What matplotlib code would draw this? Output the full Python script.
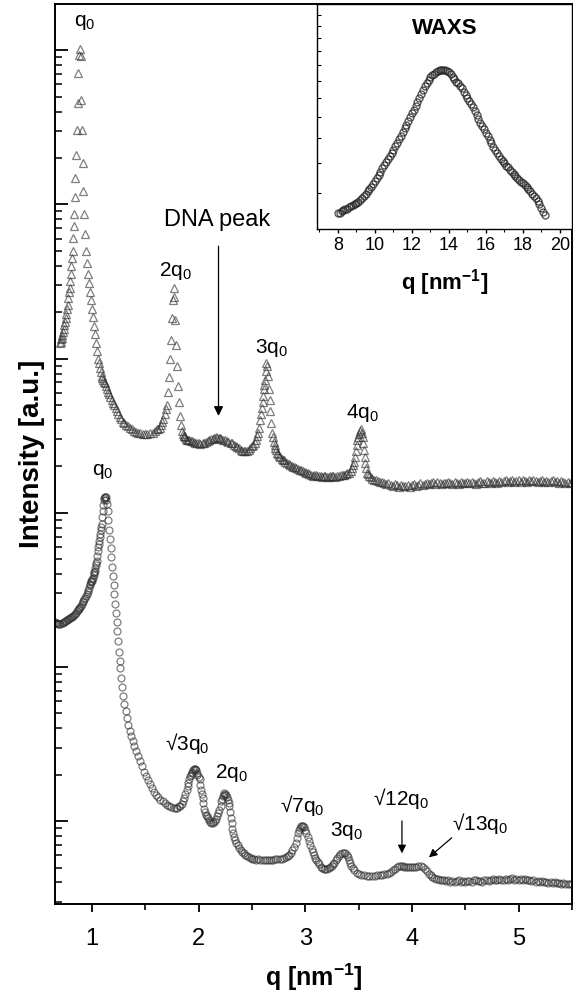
import matplotlib.pyplot as plt
import numpy as np
from matplotlib.ticker import LogLocator, MultipleLocator, NullFormatter

plt.rcParams['font.family'] = ['Liberation Sans', 'DejaVu Sans']
plt.rcParams['mathtext.fontset'] = 'custom'
plt.rcParams['mathtext.rm'] = 'Liberation Sans'
plt.rcParams['mathtext.it'] = 'Liberation Sans:italic'
plt.rcParams['mathtext.bf'] = 'Liberation Sans:bold'

# SAXS, upper curve (triangles): q [nm^-1] and log10 of intensity [a.u.]
q_top = [0.700, 0.706, 0.712, 0.718, 0.724, 0.730, 0.736, 0.742, 0.748, 0.754,
         0.760, 0.766, 0.772, 0.778, 0.784, 0.790, 0.796, 0.802, 0.808, 0.814,
         0.820, 0.825, 0.830, 0.835, 0.840, 0.845, 0.850, 0.858, 0.865, 0.872,
         0.880, 0.888, 0.895, 0.900, 0.908, 0.915, 0.920, 0.928, 0.935, 0.944,
         0.953, 0.962, 0.972, 0.981, 0.991, 1.000, 1.009, 1.020, 1.030, 1.040,
         1.050, 1.060, 1.068, 1.075, 1.083, 1.090, 1.098, 1.105, 1.113, 1.121,
         1.130, 1.140, 1.150, 1.160, 1.172, 1.187, 1.198, 1.210, 1.222, 1.235,
         1.248, 1.262, 1.276, 1.290, 1.305, 1.320, 1.337, 1.355, 1.372, 1.390,
         1.410, 1.430, 1.453, 1.477, 1.498, 1.520, 1.545, 1.570, 1.590, 1.610,
         1.623, 1.636, 1.648, 1.660, 1.671, 1.682, 1.691, 1.700, 1.711, 1.720,
         1.729, 1.738, 1.747, 1.756, 1.765, 1.774, 1.783, 1.792, 1.801, 1.810,
         1.819, 1.828, 1.837, 1.846, 1.853, 1.860, 1.868, 1.875, 1.883, 1.890,
         1.900, 1.910, 1.925, 1.940, 1.955, 1.970, 1.985, 2.000, 2.018, 2.037,
         2.053, 2.070, 2.085, 2.100, 2.115, 2.131, 2.145, 2.160, 2.175, 2.190,
         2.203, 2.215, 2.232, 2.250, 2.265, 2.280, 2.300, 2.318, 2.334, 2.350,
         2.365, 2.380, 2.395, 2.411, 2.425, 2.440, 2.455, 2.470, 2.485, 2.500,
         2.515, 2.530, 2.540, 2.550, 2.560, 2.570, 2.578, 2.585, 2.593, 2.600,
         2.606, 2.612, 2.617, 2.622, 2.630, 2.636, 2.643, 2.652, 2.660, 2.666,
         2.672, 2.680, 2.690, 2.697, 2.705, 2.712, 2.720, 2.730, 2.740, 2.748,
         2.757, 2.768, 2.780, 2.790, 2.800, 2.815, 2.830, 2.845, 2.860, 2.875,
         2.890, 2.903, 2.916, 2.933, 2.950, 2.965, 2.980, 2.995, 3.010, 3.025,
         3.040, 3.055, 3.070, 3.085, 3.100, 3.115, 3.130, 3.145, 3.160, 3.175,
         3.190, 3.205, 3.220, 3.235, 3.250, 3.265, 3.280, 3.300, 3.318, 3.334,
         3.350, 3.365, 3.380, 3.395, 3.410, 3.425, 3.440, 3.450, 3.458, 3.467,
         3.475, 3.483, 3.490, 3.498, 3.505, 3.514, 3.523, 3.530, 3.538, 3.545,
         3.551, 3.558, 3.565, 3.572, 3.580, 3.590, 3.600, 3.615, 3.630, 3.647,
         3.664, 3.682, 3.700, 3.720, 3.740, 3.760, 3.780, 3.800, 3.820, 3.840,
         3.860, 3.880, 3.900, 3.920, 3.940, 3.960, 3.980, 4.000, 4.020, 4.040,
         4.060, 4.080, 4.100, 4.120, 4.140, 4.160, 4.180, 4.200, 4.220, 4.240,
         4.260, 4.280, 4.300, 4.320, 4.340, 4.360, 4.380, 4.400, 4.420, 4.440,
         4.460, 4.480, 4.500, 4.520, 4.540, 4.560, 4.580, 4.600, 4.620, 4.640,
         4.660, 4.680, 4.700, 4.720, 4.740, 4.760, 4.780, 4.800, 4.820, 4.840,
         4.860, 4.880, 4.900, 4.920, 4.940, 4.960, 4.980, 5.000, 5.020, 5.040,
         5.060, 5.080, 5.100, 5.120, 5.140, 5.160, 5.180, 5.200, 5.220, 5.240,
         5.260, 5.280, 5.300, 5.320, 5.340, 5.360, 5.380, 5.400, 5.420, 5.440,
         5.460, 5.480, 5.500]
logI_top = [3.100, 3.110, 3.125, 3.135, 3.150, 3.170, 3.190, 3.215, 3.240, 3.265,
            3.290, 3.320, 3.350, 3.390, 3.430, 3.460, 3.500, 3.550, 3.600, 3.650,
            3.700, 3.780, 3.860, 3.940, 4.050, 4.170, 4.320, 4.480, 4.660, 4.850,
            4.970, 5.010, 4.960, 4.680, 4.480, 4.270, 4.090, 3.940, 3.810, 3.700,
            3.620, 3.550, 3.490, 3.430, 3.380, 3.320, 3.270, 3.210, 3.160, 3.100,
            3.050, 3.000, 2.970, 2.940, 2.915, 2.890, 2.875, 2.860, 2.850, 2.840,
            2.820, 2.800, 2.785, 2.770, 2.750, 2.730, 2.715, 2.700, 2.680, 2.660,
            2.640, 2.620, 2.605, 2.590, 2.580, 2.570, 2.560, 2.550, 2.540, 2.530,
            2.525, 2.520, 2.515, 2.510, 2.510, 2.510, 2.515, 2.520, 2.530, 2.540,
            2.545, 2.550, 2.570, 2.590, 2.610, 2.640, 2.670, 2.700, 2.780, 2.880,
            3.000, 3.120, 3.260, 3.380, 3.460, 3.400, 3.250, 3.090, 2.950, 2.820,
            2.720, 2.630, 2.570, 2.530, 2.510, 2.500, 2.495, 2.490, 2.480, 2.475,
            2.472, 2.470, 2.468, 2.465, 2.460, 2.455, 2.452, 2.450, 2.448, 2.450,
            2.455, 2.460, 2.468, 2.475, 2.478, 2.480, 2.487, 2.490, 2.488, 2.485,
            2.482, 2.480, 2.475, 2.470, 2.465, 2.460, 2.455, 2.450, 2.440, 2.430,
            2.425, 2.420, 2.410, 2.400, 2.398, 2.400, 2.403, 2.410, 2.420, 2.430,
            2.440, 2.450, 2.470, 2.500, 2.520, 2.550, 2.600, 2.640, 2.680, 2.720,
            2.760, 2.800, 2.830, 2.860, 2.920, 2.970, 2.950, 2.890, 2.800, 2.730,
            2.660, 2.580, 2.520, 2.490, 2.460, 2.440, 2.420, 2.405, 2.390, 2.380,
            2.370, 2.360, 2.350, 2.345, 2.340, 2.330, 2.320, 2.315, 2.310, 2.305,
            2.300, 2.295, 2.290, 2.285, 2.280, 2.275, 2.270, 2.265, 2.260, 2.255,
            2.250, 2.245, 2.240, 2.243, 2.245, 2.240, 2.240, 2.237, 2.235, 2.238,
            2.240, 2.233, 2.230, 2.236, 2.240, 2.237, 2.235, 2.238, 2.240, 2.243,
            2.245, 2.248, 2.250, 2.255, 2.260, 2.270, 2.290, 2.310, 2.330, 2.360,
            2.400, 2.440, 2.470, 2.490, 2.510, 2.530, 2.540, 2.520, 2.490, 2.450,
            2.410, 2.360, 2.320, 2.290, 2.260, 2.250, 2.240, 2.230, 2.220, 2.215,
            2.210, 2.205, 2.200, 2.200, 2.195, 2.185, 2.190, 2.180, 2.175, 2.185,
            2.178, 2.170, 2.180, 2.175, 2.172, 2.180, 2.170, 2.178, 2.185, 2.176,
            2.182, 2.190, 2.180, 2.185, 2.195, 2.184, 2.190, 2.198, 2.186, 2.200,
            2.190, 2.184, 2.196, 2.190, 2.200, 2.192, 2.186, 2.198, 2.194, 2.188,
            2.200, 2.196, 2.190, 2.198, 2.192, 2.202, 2.195, 2.188, 2.198, 2.205,
            2.195, 2.190, 2.204, 2.198, 2.192, 2.206, 2.200, 2.195, 2.208, 2.198,
            2.204, 2.212, 2.200, 2.206, 2.212, 2.198, 2.205, 2.210, 2.202, 2.212,
            2.205, 2.198, 2.210, 2.205, 2.214, 2.204, 2.198, 2.208, 2.212, 2.202,
            2.208, 2.200, 2.206, 2.212, 2.200, 2.205, 2.196, 2.204, 2.198, 2.192,
            2.200, 2.195, 2.198]

# SAXS, lower curve (circles)
q_bot = [0.655, 0.665, 0.675, 0.685, 0.695, 0.705, 0.715, 0.725, 0.735, 0.745,
         0.755, 0.766, 0.776, 0.785, 0.795, 0.805, 0.814, 0.822, 0.831, 0.840,
         0.850, 0.860, 0.868, 0.875, 0.882, 0.888, 0.897, 0.905, 0.913, 0.920,
         0.928, 0.935, 0.944, 0.953, 0.959, 0.965, 0.972, 0.980, 0.985, 0.990,
         0.995, 1.000, 1.005, 1.010, 1.015, 1.020, 1.024, 1.028, 1.033, 1.038,
         1.043, 1.047, 1.052, 1.056, 1.061, 1.066, 1.070, 1.075, 1.080, 1.084,
         1.089, 1.093, 1.098, 1.103, 1.108, 1.112, 1.117, 1.121, 1.126, 1.131,
         1.136, 1.140, 1.147, 1.154, 1.161, 1.168, 1.175, 1.182, 1.189, 1.196,
         1.203, 1.210, 1.217, 1.224, 1.231, 1.238, 1.245, 1.252, 1.259, 1.266,
         1.274, 1.283, 1.293, 1.304, 1.315, 1.327, 1.340, 1.354, 1.368, 1.383,
         1.398, 1.414, 1.431, 1.449, 1.467, 1.485, 1.503, 1.522, 1.542, 1.560,
         1.580, 1.600, 1.620, 1.642, 1.664, 1.685, 1.705, 1.725, 1.745, 1.765,
         1.785, 1.800, 1.815, 1.828, 1.841, 1.853, 1.865, 1.877, 1.888, 1.897,
         1.905, 1.913, 1.920, 1.928, 1.935, 1.943, 1.950, 1.957, 1.963, 1.969,
         1.975, 1.983, 1.990, 2.000, 2.009, 2.017, 2.025, 2.031, 2.037, 2.046,
         2.055, 2.062, 2.070, 2.077, 2.084, 2.095, 2.105, 2.118, 2.131, 2.140,
         2.150, 2.160, 2.170, 2.183, 2.196, 2.206, 2.215, 2.223, 2.230, 2.237,
         2.243, 2.250, 2.258, 2.266, 2.275, 2.283, 2.290, 2.298, 2.305, 2.312,
         2.318, 2.326, 2.335, 2.345, 2.355, 2.368, 2.383, 2.396, 2.410, 2.425,
         2.440, 2.455, 2.470, 2.488, 2.505, 2.522, 2.540, 2.560, 2.580, 2.600,
         2.620, 2.640, 2.660, 2.680, 2.700, 2.720, 2.740, 2.763, 2.785, 2.803,
         2.820, 2.835, 2.850, 2.865, 2.879, 2.895, 2.910, 2.923, 2.935, 2.945,
         2.955, 2.964, 2.972, 2.981, 2.990, 3.000, 3.010, 3.024, 3.037, 3.048,
         3.060, 3.070, 3.080, 3.092, 3.103, 3.116, 3.130, 3.145, 3.159, 3.175,
         3.190, 3.205, 3.220, 3.235, 3.250, 3.261, 3.271, 3.285, 3.300, 3.315,
         3.330, 3.347, 3.364, 3.377, 3.390, 3.400, 3.410, 3.420, 3.430, 3.445,
         3.460, 3.482, 3.505, 3.527, 3.550, 3.575, 3.600, 3.625, 3.650, 3.675,
         3.700, 3.720, 3.740, 3.763, 3.785, 3.803, 3.820, 3.840, 3.860, 3.878,
         3.897, 3.913, 3.930, 3.945, 3.960, 3.980, 4.000, 4.020, 4.040, 4.062,
         4.084, 4.102, 4.120, 4.140, 4.159, 4.175, 4.190, 4.207, 4.224, 4.242,
         4.260, 4.280, 4.300, 4.320, 4.340, 4.360, 4.380, 4.400, 4.420, 4.440,
         4.460, 4.480, 4.500, 4.520, 4.540, 4.560, 4.580, 4.600, 4.620, 4.640,
         4.660, 4.680, 4.700, 4.720, 4.740, 4.760, 4.780, 4.800, 4.820, 4.840,
         4.860, 4.880, 4.900, 4.920, 4.940, 4.960, 4.980, 5.000, 5.020, 5.040,
         5.060, 5.080, 5.100, 5.120, 5.140, 5.160, 5.180, 5.200, 5.220, 5.240,
         5.260, 5.280, 5.300, 5.320, 5.340, 5.360, 5.380, 5.400, 5.420, 5.440,
         5.460, 5.480, 5.500]
logI_bot = [1.290, 1.286, 1.283, 1.280, 1.280, 1.281, 1.284, 1.288, 1.292, 1.296,
            1.300, 1.304, 1.308, 1.312, 1.316, 1.321, 1.326, 1.331, 1.338, 1.345,
            1.352, 1.360, 1.368, 1.375, 1.380, 1.386, 1.398, 1.410, 1.420, 1.430,
            1.440, 1.450, 1.462, 1.475, 1.488, 1.500, 1.515, 1.530, 1.540, 1.550,
            1.555, 1.560, 1.570, 1.580, 1.595, 1.610, 1.618, 1.625, 1.642, 1.660,
            1.675, 1.690, 1.720, 1.750, 1.775, 1.800, 1.820, 1.840, 1.865, 1.890,
            1.910, 1.930, 1.970, 2.010, 2.050, 2.080, 2.095, 2.100, 2.104, 2.104,
            2.085, 2.060, 2.010, 1.950, 1.890, 1.830, 1.770, 1.710, 1.650, 1.590,
            1.530, 1.470, 1.410, 1.350, 1.290, 1.230, 1.170, 1.100, 1.040, 0.990,
            0.930, 0.870, 0.810, 0.760, 0.715, 0.670, 0.625, 0.585, 0.550, 0.520,
            0.490, 0.455, 0.420, 0.390, 0.355, 0.320, 0.290, 0.265, 0.240, 0.215,
            0.190, 0.170, 0.155, 0.140, 0.130, 0.118, 0.105, 0.097, 0.090, 0.085,
            0.085, 0.088, 0.095, 0.100, 0.110, 0.130, 0.150, 0.175, 0.200, 0.225,
            0.250, 0.270, 0.290, 0.300, 0.310, 0.320, 0.330, 0.337, 0.340, 0.337,
            0.330, 0.315, 0.300, 0.285, 0.270, 0.235, 0.200, 0.175, 0.150, 0.115,
            0.080, 0.060, 0.040, 0.030, 0.020, 0.005, -0.005, -0.011, -0.013, -0.008,
            0.000, 0.015, 0.030, 0.050, 0.070, 0.100, 0.130, 0.145, 0.160, 0.172,
            0.180, 0.177, 0.170, 0.155, 0.140, 0.120, 0.100, 0.060, 0.020, -0.015,
            -0.050, -0.075, -0.100, -0.120, -0.140, -0.158, -0.175, -0.188, -0.200, -0.210,
            -0.220, -0.228, -0.235, -0.240, -0.245, -0.248, -0.250, -0.248, -0.250, -0.254,
            -0.255, -0.252, -0.250, -0.253, -0.250, -0.247, -0.245, -0.246, -0.245, -0.240,
            -0.235, -0.228, -0.220, -0.205, -0.190, -0.165, -0.140, -0.110, -0.080, -0.060,
            -0.045, -0.035, -0.030, -0.033, -0.040, -0.055, -0.075, -0.100, -0.130, -0.155,
            -0.180, -0.200, -0.220, -0.237, -0.250, -0.265, -0.280, -0.295, -0.305, -0.309,
            -0.310, -0.308, -0.305, -0.298, -0.290, -0.280, -0.270, -0.255, -0.240, -0.227,
            -0.215, -0.207, -0.205, -0.210, -0.220, -0.235, -0.250, -0.270, -0.290, -0.305,
            -0.320, -0.335, -0.345, -0.348, -0.350, -0.353, -0.355, -0.357, -0.355, -0.352,
            -0.350, -0.348, -0.345, -0.340, -0.335, -0.328, -0.320, -0.310, -0.300, -0.293,
            -0.290, -0.292, -0.295, -0.298, -0.300, -0.300, -0.300, -0.298, -0.295, -0.292,
            -0.290, -0.298, -0.310, -0.325, -0.340, -0.352, -0.360, -0.368, -0.375, -0.378,
            -0.380, -0.384, -0.385, -0.388, -0.382, -0.392, -0.386, -0.395, -0.388, -0.384,
            -0.394, -0.389, -0.397, -0.390, -0.386, -0.393, -0.385, -0.383, -0.390, -0.386,
            -0.392, -0.384, -0.381, -0.388, -0.380, -0.377, -0.385, -0.382, -0.378, -0.385,
            -0.379, -0.376, -0.383, -0.377, -0.372, -0.380, -0.375, -0.380, -0.376, -0.383,
            -0.378, -0.385, -0.382, -0.388, -0.384, -0.392, -0.387, -0.393, -0.389, -0.396,
            -0.392, -0.399, -0.395, -0.402, -0.398, -0.404, -0.400, -0.406, -0.402, -0.409,
            -0.405, -0.411, -0.408]

# WAXS inset
q_waxs = [8.0, 8.1, 8.2, 8.3, 8.4, 8.5, 8.6, 8.7, 8.8, 8.9,
          9.0, 9.1, 9.2, 9.3, 9.4, 9.5, 9.6, 9.7, 9.8, 9.9,
          10.0, 10.1, 10.2, 10.3, 10.4, 10.5, 10.6, 10.7, 10.8, 10.9,
          11.0, 11.1, 11.2, 11.3, 11.4, 11.5, 11.6, 11.7, 11.8, 11.9,
          12.0, 12.1, 12.2, 12.3, 12.4, 12.5, 12.6, 12.7, 12.8, 12.9,
          13.0, 13.1, 13.2, 13.3, 13.4, 13.5, 13.6, 13.7, 13.8, 13.9,
          14.0, 14.1, 14.2, 14.3, 14.4, 14.5, 14.6, 14.7, 14.8, 14.9,
          15.0, 15.1, 15.2, 15.3, 15.4, 15.5, 15.6, 15.7, 15.8, 15.9,
          16.0, 16.1, 16.2, 16.3, 16.4, 16.5, 16.6, 16.7, 16.8, 16.9,
          17.0, 17.1, 17.2, 17.3, 17.4, 17.5, 17.6, 17.7, 17.8, 17.9,
          18.0, 18.1, 18.2, 18.3, 18.4, 18.5, 18.6, 18.7, 18.8, 18.9,
          19.0, 19.1, 19.2]
I_waxs = [4.41, 4.43, 4.46, 4.49, 4.52, 4.54, 4.57, 4.60, 4.63, 4.66,
          4.70, 4.74, 4.78, 4.84, 4.90, 4.97, 5.05, 5.12, 5.20, 5.28,
          5.37, 5.47, 5.58, 5.70, 5.82, 5.93, 6.05, 6.16, 6.28, 6.40,
          6.52, 6.66, 6.80, 6.96, 7.12, 7.28, 7.45, 7.62, 7.80, 7.98,
          8.17, 8.36, 8.55, 8.76, 8.98, 9.20, 9.43, 9.65, 9.85, 10.03,
          10.20, 10.33, 10.45, 10.55, 10.62, 10.66, 10.68, 10.68, 10.66, 10.60,
          10.52, 10.40, 10.25, 10.10, 9.95, 9.83, 9.70, 9.53, 9.35, 9.18,
          9.00, 8.82, 8.65, 8.48, 8.30, 8.10, 7.90, 7.72, 7.55, 7.40,
          7.25, 7.10, 6.95, 6.80, 6.65, 6.52, 6.40, 6.28, 6.17, 6.08,
          6.00, 5.92, 5.85, 5.77, 5.70, 5.62, 5.55, 5.49, 5.43, 5.36,
          5.30, 5.24, 5.18, 5.11, 5.05, 4.98, 4.92, 4.84, 4.76, 4.66,
          4.55, 4.45, 4.35]

fig = plt.figure(figsize=(5.73, 9.98), dpi=100)
ax = fig.add_axes([0.096, 0.094, 0.902, 0.902])

ax.plot(q_top, 10 ** np.array(logI_top), ls='none', marker='^', ms=6,
        mfc='none', mec='#303030', mew=0.9, alpha=0.62)
ax.plot(q_bot, 10 ** np.array(logI_bot), ls='none', marker='o', ms=5,
        mfc='none', mec='#303030', mew=0.9, alpha=0.62)

ax.set_yscale('log')
ax.set_xlim(0.654, 5.5)
ax.set_ylim(10 ** -0.539, 10 ** 5.3)
ax.xaxis.set_major_locator(MultipleLocator(1))
ax.xaxis.set_minor_locator(MultipleLocator(0.5))
ax.yaxis.set_major_locator(LogLocator(base=10, numticks=20))
ax.yaxis.set_minor_locator(LogLocator(base=10, subs=np.arange(2, 10), numticks=20))
ax.yaxis.set_major_formatter(NullFormatter())
ax.yaxis.set_minor_formatter(NullFormatter())
ax.tick_params(axis='x', which='major', direction='out', length=6, width=1.3,
               labelsize=17, pad=11)
ax.tick_params(axis='x', which='minor', direction='out', length=4, width=1.2)
ax.tick_params(axis='y', which='major', direction='in', length=9, width=1.3)
ax.tick_params(axis='y', which='minor', direction='in', length=5, width=1.1)
for s in ax.spines.values():
    s.set_linewidth(1.4)

ax.set_xlabel('q [nm$^{\\mathbf{-1}}$]', fontsize=18, fontweight='bold')
ax.xaxis.set_label_coords(0.5, -0.064)
ax.set_ylabel('Intensity [a.u.]', fontsize=20, fontweight='bold')
ax.yaxis.set_label_coords(-0.02, 0.5)

# peak labels
lab = dict(fontsize=15, ha='center', va='center')
ax.text(0.93, 10 ** 5.18, 'q$_0$', **lab)
ax.text(1.785, 10 ** 3.57, '2q$_0$', **lab)
ax.text(2.68, 10 ** 3.07, '3q$_0$', **lab)
ax.text(3.533, 10 ** 2.65, '4q$_0$', **lab)
ax.text(2.178, 10 ** 3.896, 'DNA peak', fontsize=17, ha='center', va='center')
ax.annotate('', xy=(2.187, 10 ** 2.61), xytext=(2.187, 10 ** 3.747),
            arrowprops=dict(arrowstyle='-|>', color='black', lw=0.9,
                            mutation_scale=14))

ax.text(1.103, 10 ** 2.27, 'q$_0$', **lab)
ax.text(1.897, 10 ** 0.506, '\u221a3q$_0$', **lab)
ax.text(2.308, 10 ** 0.312, '2q$_0$', **lab)
ax.text(2.972, 10 ** 0.104, '\u221a7q$_0$', **lab)
ax.text(3.383, 10 ** -0.065, '3q$_0$', **lab)
ax.text(3.897, 10 ** 0.149, '\u221a12q$_0$', **lab)
ax.text(4.636, 10 ** -0.013, '\u221a13q$_0$', **lab)
ax.annotate('', xy=(3.907, 10 ** -0.227), xytext=(3.907, 10 ** 0.019),
            arrowprops=dict(arrowstyle='-|>', color='black', lw=0.9,
                            mutation_scale=12))
ax.annotate('', xy=(4.14, 10 ** -0.247), xytext=(4.393, 10 ** -0.097),
            arrowprops=dict(arrowstyle='-|>', color='black', lw=0.9,
                            mutation_scale=12))

# inset
axi = fig.add_axes([0.553, 0.7705, 0.445, 0.2255])
axi.plot(q_waxs, I_waxs, ls='none', marker='o', ms=5, mfc='none',
         mec='#222222', mew=1.0, alpha=0.75)
axi.set_yscale('log')
axi.set_xlim(6.86, 20.65)
axi.set_ylim(4.0, 16.06)
axi.xaxis.set_major_locator(MultipleLocator(2))
axi.xaxis.set_minor_locator(MultipleLocator(1))
axi.set_yticks(range(5, 16))
axi.yaxis.set_major_formatter(NullFormatter())
axi.yaxis.set_minor_locator(plt.NullLocator())
axi.yaxis.set_minor_formatter(NullFormatter())
axi.tick_params(axis='x', which='major', direction='out', length=3, width=1,
                labelsize=13, pad=3)
axi.tick_params(axis='x', which='minor', direction='out', length=2, width=0.8)
axi.tick_params(axis='y', direction='in', length=3, width=0.8)
for s in axi.spines.values():
    s.set_linewidth(1.0)
axi.text(0.502, 0.893, 'WAXS', transform=axi.transAxes, fontsize=16,
         fontweight='bold', ha='center', va='center')
axi.set_xlabel('q [nm$^{\\mathbf{-1}}$]', fontsize=16, fontweight='bold')
axi.xaxis.set_label_coords(0.5, -0.17)

fig.savefig('out.png', dpi=100)
